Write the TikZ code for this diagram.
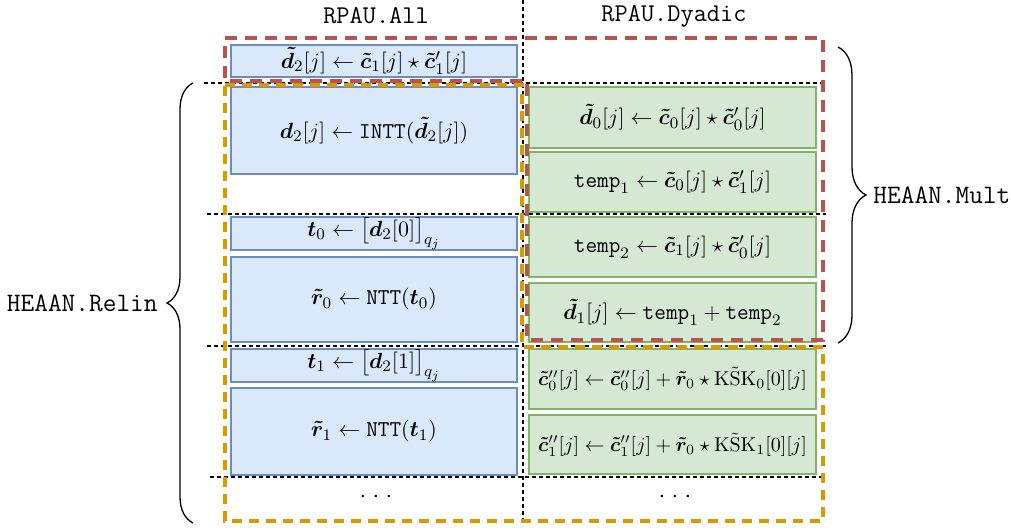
\documentclass[tikz,border=0pt]{standalone}
\usepackage{amsmath,bm}
\usetikzlibrary{decorations.pathreplacing}
\definecolor{bfill}{HTML}{DAE8FC}
\definecolor{bline}{HTML}{6C8EBF}
\definecolor{gfill}{HTML}{D5E8D4}
\definecolor{gline}{HTML}{82B366}
\definecolor{rzone}{HTML}{B85450}
\definecolor{ozone}{HTML}{D79B00}
\tikzset{
  cell/.style={line width=0.8pt, inner sep=0pt, anchor=center, font=\fontsize{11.3}{13}\selectfont},
  bluecell/.style={cell, fill=bfill, draw=bline},
  greencell/.style={cell, fill=gfill, draw=gline},
  smalltext/.style={font=\fontsize{10.3}{12}\selectfont},
  sepline/.style={black, line width=0.7pt, dash pattern=on 2pt off 1.5pt},
  redzone/.style={draw=rzone, line width=1.6pt, dash pattern=on 6pt off 4pt},
  orangezone/.style={draw=ozone, line width=1.6pt, dash pattern=on 5pt off 3.5pt},
  coltitle/.style={font=\fontsize{12.8}{15}\selectfont\ttfamily, inner sep=0pt},
  bracelabel/.style={font=\fontsize{13.3}{15}\selectfont\ttfamily, inner sep=0pt},
  curly/.style={decorate, line width=0.65pt, black},
  dotsnode/.style={inner sep=0pt, font=\fontsize{12}{14}\selectfont}
}
\newcommand{\cellnode}[7]{\node[#2, minimum width={(#5-#3)*0.5pt}, minimum height={(#6-#4)*0.5pt}] (#1) at ({(#3+#5)/2},{-(#4+#6)/2}) {#7};}
\newcommand{\spaceddots}{$\cdotp$\hspace{3.2pt}$\cdotp$\hspace{3.2pt}$\cdotp$}
\begin{document}
\begin{tikzpicture}[x=0.5pt,y=0.5pt]
\useasboundingbox[fill=white] (0,0) rectangle (1011,-531);

% column titles
\node[coltitle] (tAll) at (376,-16) {RPAU.All};
\node[coltitle] (tDy) at (674,-16) {RPAU.Dyadic};

% separators
\coordinate (vtop) at (523,0);
\coordinate (vbot) at (523,-520);
\draw[sepline] (vtop) -- (vbot);
\coordinate (h1a) at (204,-83);  \coordinate (h1b) at (826,-83);
\coordinate (h2a) at (207,-214); \coordinate (h2b) at (826,-214);
\coordinate (h3a) at (207,-346); \coordinate (h3b) at (826,-346);
\coordinate (h4a) at (210,-477); \coordinate (h4b) at (823,-477);
\draw[sepline] (h1a) -- (h1b);
\draw[sepline] (h2a) -- (h2b);
\draw[sepline] (h3a) -- (h3b);
\draw[sepline] (h4a) -- (h4b);

% left column
\cellnode{a}{bluecell}{231}{45}{517}{77}{$\bm{\tilde{d}}_2[j] \leftarrow \bm{\tilde{c}}_1[j] \star \bm{\tilde{c}}'_1[j]$}
\cellnode{b}{bluecell}{231}{87}{517}{174}{$\bm{d}_2[j] \leftarrow \texttt{INTT}(\bm{\tilde{d}}_2[j])$}
\cellnode{c}{bluecell}{231}{217}{517}{250}{$\bm{t}_0 \leftarrow \big[\bm{d}_2[0]\big]_{q_j}$}
\cellnode{d}{bluecell}{231}{257}{517}{342}{$\bm{\tilde{r}}_0 \leftarrow \texttt{NTT}(\bm{t}_0)$}
\cellnode{e}{bluecell}{231}{349}{517}{382}{$\bm{t}_1 \leftarrow \big[\bm{d}_2[1]\big]_{q_j}$}
\cellnode{f}{bluecell}{231}{388}{517}{475}{$\bm{\tilde{r}}_1 \leftarrow \texttt{NTT}(\bm{t}_1)$}

% right column
\cellnode{g1}{greencell}{529}{87}{816}{148}{$\bm{\tilde{d}}_0[j] \leftarrow \bm{\tilde{c}}_0[j] \star \bm{\tilde{c}}'_0[j]$}
\cellnode{g2}{greencell}{529}{152}{816}{212}{$\texttt{temp}_1 \leftarrow \bm{\tilde{c}}_0[j] \star \bm{\tilde{c}}'_1[j]$}
\cellnode{g3}{greencell}{529}{217}{816}{277}{$\texttt{temp}_2 \leftarrow \bm{\tilde{c}}_1[j] \star \bm{\tilde{c}}'_0[j]$}
\cellnode{g4}{greencell}{529}{283}{816}{342}{$\bm{\tilde{d}}_1[j] \leftarrow \texttt{temp}_1 + \texttt{temp}_2$}
\cellnode{g5}{greencell,smalltext}{529}{349}{816}{409}{$\bm{\tilde{c}}''_0[j] \leftarrow \bm{\tilde{c}}''_0[j] + \bm{\tilde{r}}_0 \star \mathrm{K}\tilde{\mathrm{S}}\mathrm{K}_0[0][j]$}
\cellnode{g6}{greencell,smalltext}{529}{415}{816}{474}{$\bm{\tilde{c}}''_1[j] \leftarrow \bm{\tilde{c}}''_1[j] + \bm{\tilde{r}}_0 \star \mathrm{K}\tilde{\mathrm{S}}\mathrm{K}_1[0][j]$}

% dots
\node[dotsnode] (dl) at (376,-497) {\spaceddots};
\node[dotsnode] (dr) at (675,-497) {\spaceddots};

% zones
\draw[redzone] (225,-38) -- (823,-38) -- (823,-340) -- (527,-340) -- (527,-81) -- (225,-81) -- cycle;
\draw[orangezone] (225,-85) -- (522,-85) -- (522,-347) -- (823,-347) -- (823,-521) -- (225,-521) -- cycle;

% braces
\coordinate (lb1) at (193,-523);
\coordinate (lb2) at (193,-83);
\draw[curly, decoration={brace, amplitude=13pt}] (lb1) -- (lb2);
\node[bracelabel, anchor=east] (relin) at (158,-303) {HEAAN.Relin};
\coordinate (rb1) at (838,-47);
\coordinate (rb2) at (838,-343);
\draw[curly, decoration={brace, amplitude=14pt}] (rb1) -- (rb2);
\node[bracelabel, anchor=west] (mult) at (873,-195) {HEAAN.Mult};
\end{tikzpicture}
\end{document}
